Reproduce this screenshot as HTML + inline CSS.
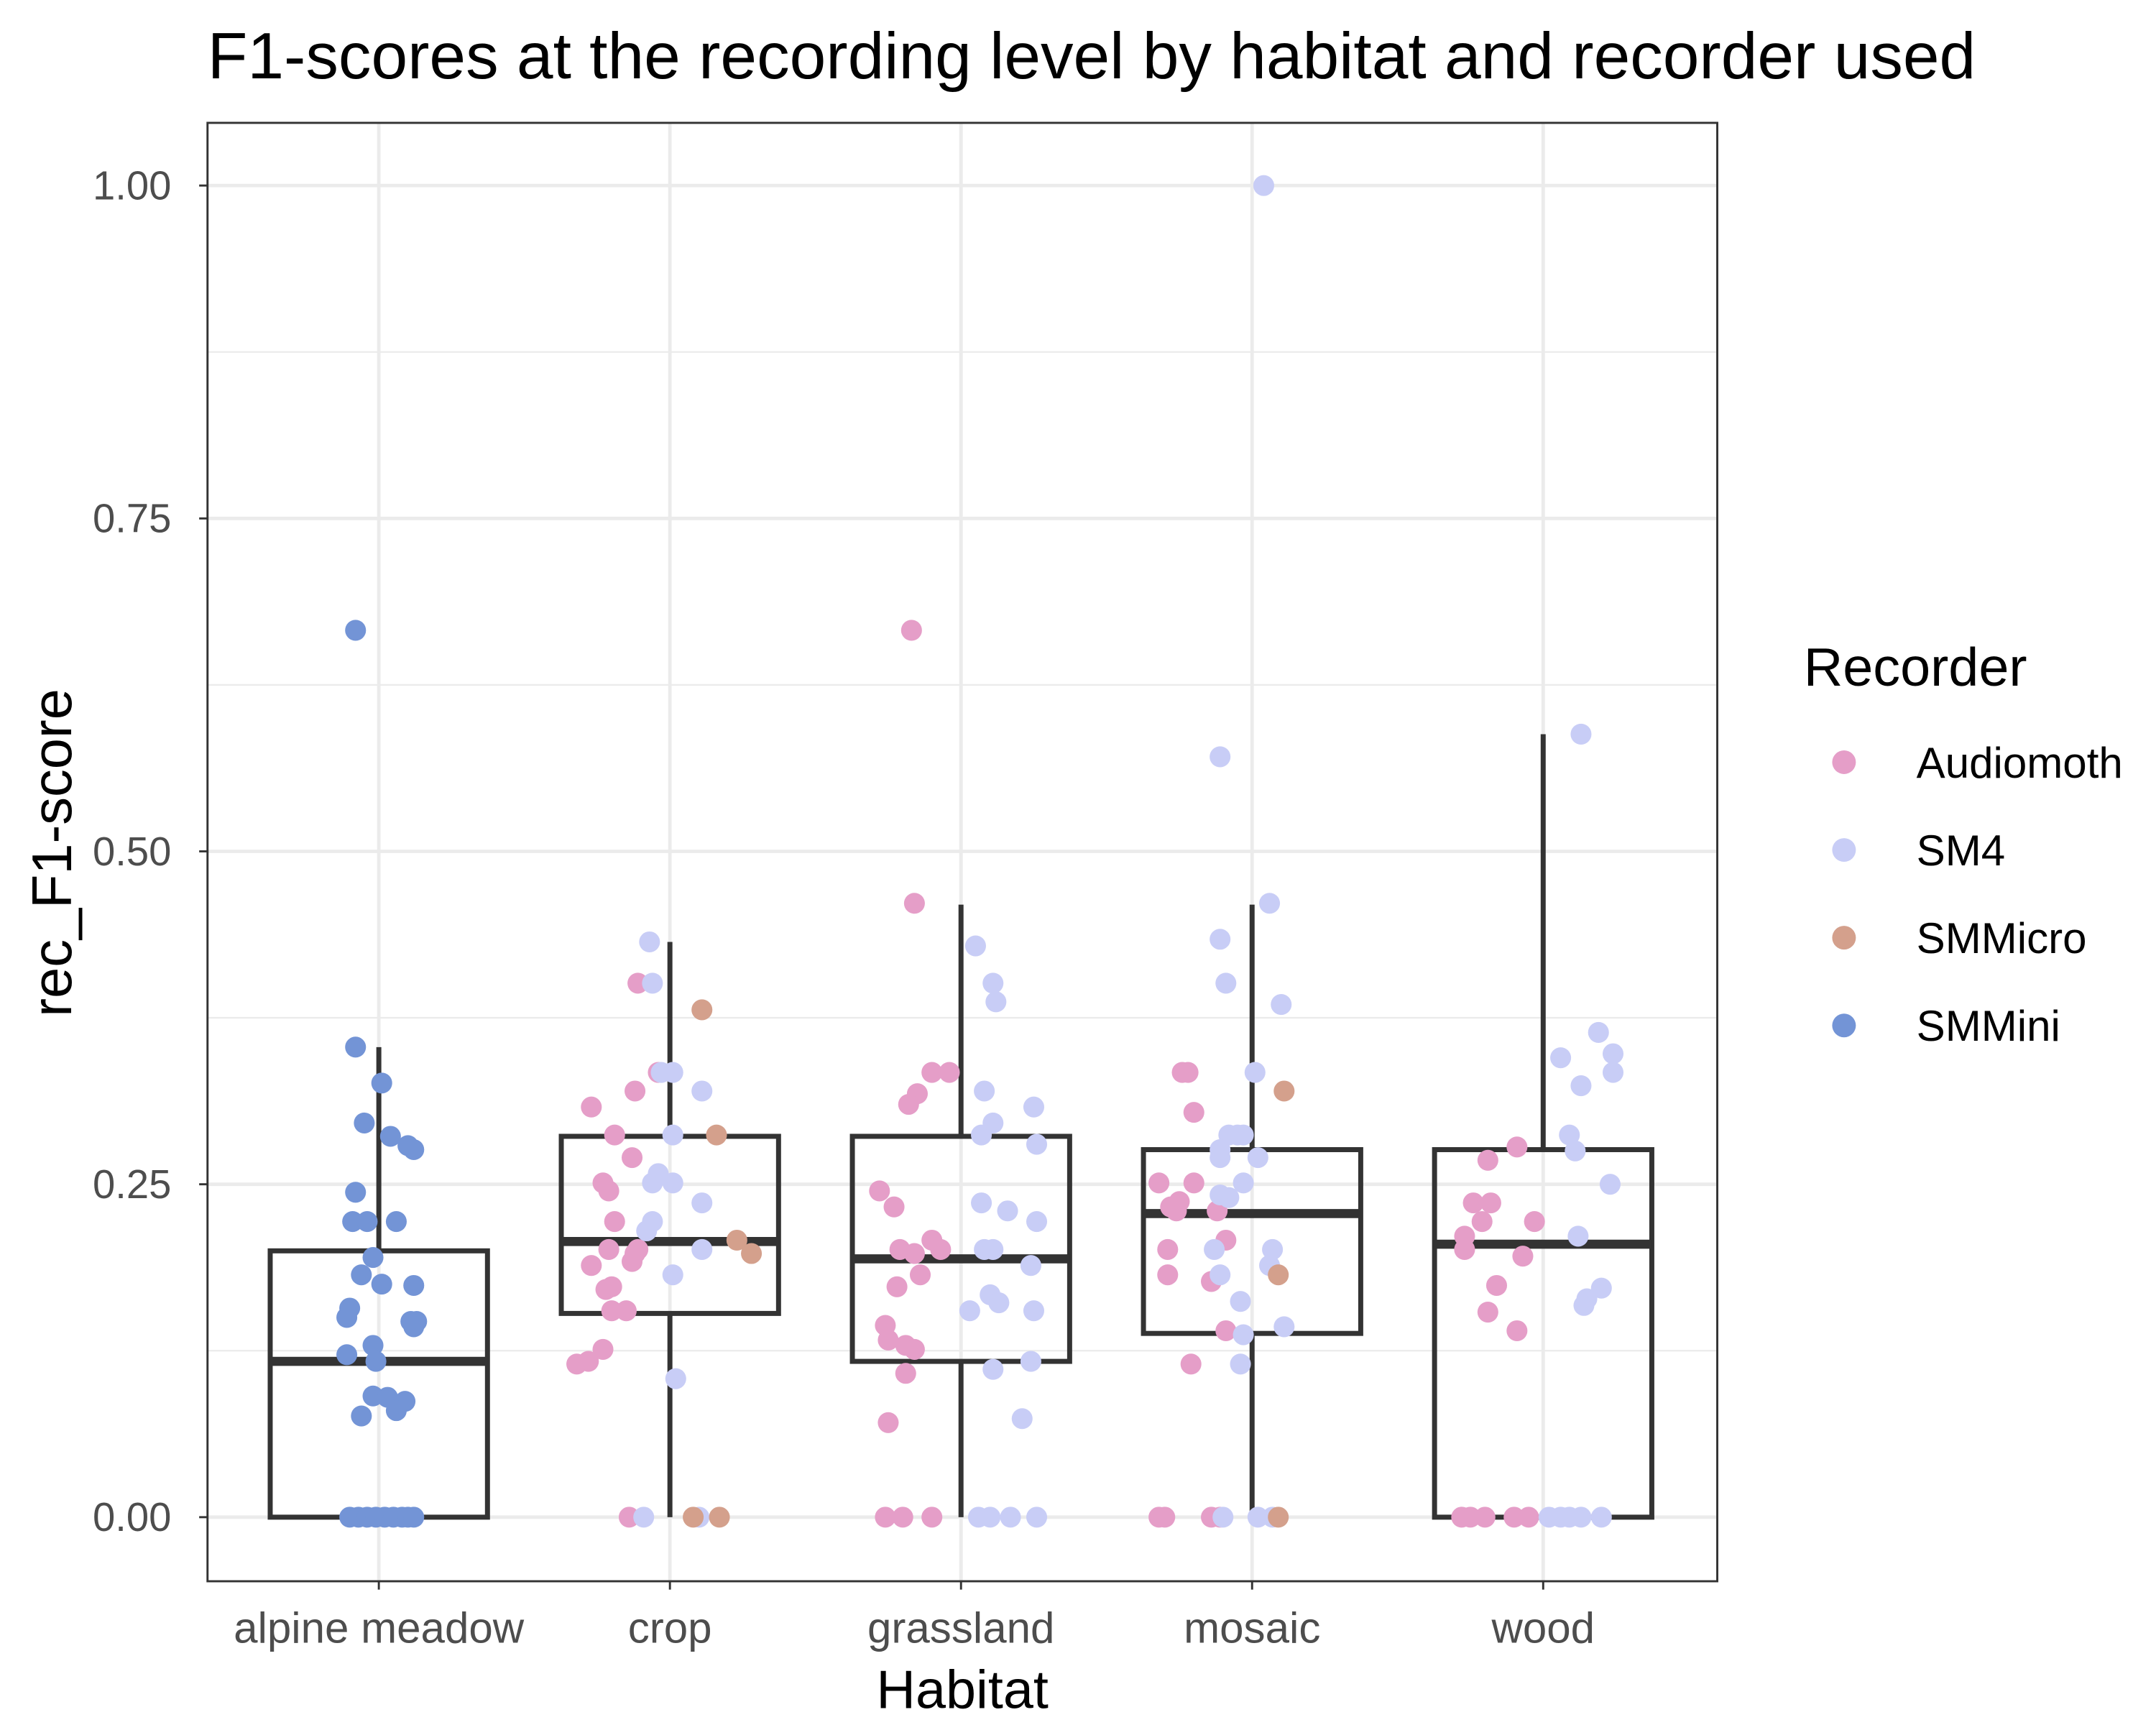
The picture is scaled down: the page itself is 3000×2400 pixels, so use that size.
<!DOCTYPE html>
<html><head><meta charset="utf-8"><style>
html,body{margin:0;padding:0;background:#fff}
svg{display:block;font-family:"Liberation Sans",Arial,sans-serif}
</style></head><body>
<svg id="chart" width="3000" height="2400" viewBox="0 0 1548 1238" xmlns="http://www.w3.org/2000/svg">
<rect x="0" y="0" width="1548" height="1238" fill="#fff"/>
<text x="149" y="56" font-size="47" fill="#000">F1-scores at the recording level by habitat and recorder used</text>
<g id="grid"></g>
<g id="boxes"></g>
<g id="points"></g>
<rect x="149" y="88" width="1084" height="1047" fill="none" stroke="#333" stroke-width="1.5"/>
<g id="axes"></g>
<text transform="translate(51,612) rotate(-90)" text-anchor="middle" font-size="40" fill="#000">rec_F1-score</text>
<text x="691" y="1226" text-anchor="middle" font-size="39" fill="#000">Habitat</text>
<g id="legend">
<text x="1295" y="492" font-size="39" fill="#000">Recorder</text>
</g>
</svg>
<script>
const categories = ["alpine meadow","crop","grassland","mosaic","wood"];
const yTicks = [0,0.25,0.5,0.75,1.0];
const yTickLabels = ["0.00","0.25","0.50","0.75","1.00"];
const recorders = ["Audiomoth","SM4","SMMicro","SMMini"];
const colors = {Audiomoth:"#e59ec8",SM4:"#c8cdf6",SMMicro:"#d4a08c",SMMini:"#7394d6"};
// box stats: [lowerWhisker, q1, median, q3, upperWhisker]
const boxStats = [
 [0,0,0.117,0.200,0.353],
 [0,0.153,0.207,0.286,0.432],
 [0,0.117,0.194,0.286,0.460],
 [0,0.138,0.228,0.276,0.460],
 [0,0,0.205,0.276,0.588]
];
// points: [habitatIndex, value, jitter (category units)]
const smMini = [[0,.666,-.08],[0,.353,-.08],[0,.326,.01],[0,.296,-.05],[0,.286,.04],[0,.279,.10],[0,.276,.12],[0,.244,-.08],[0,.222,-.09],[0,.222,-.04],[0,.222,.06],[0,.195,-.02],[0,.182,-.06],[0,.175,.01],[0,.174,.12],[0,.157,-.10],[0,.150,-.11],[0,.147,.11],[0,.147,.13],[0,.143,.12],[0,.129,-.02],[0,.122,-.11],[0,.117,-.01],[0,.091,-.02],[0,.090,.03],[0,.087,.09],[0,.080,.06],[0,.076,-.06],[0,0,-.10],[0,0,-.07],[0,0,-.04],[0,0,-.01],[0,0,.02],[0,0,.05],[0,0,.08],[0,0,.10],[0,0,.12]];
const audiomoth = [
 [1,.401,-.11],[1,.308,-.27],[1,.320,-.12],[1,.334,-.04],[1,.287,-.19],[1,.270,-.13],[1,.251,-.23],[1,.245,-.21],[1,.222,-.19],[1,.201,-.21],[1,.201,-.11],[1,.192,-.13],[1,.189,-.27],[1,.198,-.12],[1,.173,-.20],[1,.171,-.22],[1,.155,-.20],[1,.155,-.15],[1,.126,-.23],[1,.117,-.28],[1,.115,-.32],[1,0,-.14],
 [2,.666,-.17],[2,.461,-.16],[2,.318,-.15],[2,.310,-.18],[2,.334,-.10],[2,.334,-.04],[2,.245,-.28],[2,.233,-.23],[2,.201,-.21],[2,.198,-.16],[2,.208,-.10],[2,.201,-.07],[2,.182,-.14],[2,.173,-.22],[2,.144,-.26],[2,.133,-.25],[2,.129,-.19],[2,.126,-.16],[2,.108,-.19],[2,.071,-.25],[2,0,-.26],[2,0,-.20],[2,0,-.10],
 [3,.334,-.24],[3,.334,-.22],[3,.304,-.20],[3,.251,-.32],[3,.251,-.20],[3,.237,-.25],[3,.233,-.28],[3,.230,-.26],[3,.230,-.12],[3,.208,-.09],[3,.201,-.29],[3,.177,-.14],[3,.182,-.29],[3,.140,-.09],[3,.115,-.21],[3,0,-.32],[3,0,-.30],[3,0,-.14],[3,0,-.11],
 [4,.278,-.09],[4,.268,-.19],[4,.236,-.24],[4,.236,-.18],[4,.222,-.21],[4,.222,-.03],[4,.211,-.27],[4,.201,-.27],[4,.196,-.07],[4,.174,-.16],[4,.154,-.19],[4,.140,-.09],[4,0,-.28],[4,0,-.25],[4,0,-.20],[4,0,-.10],[4,0,-.05]];
const sm4 = [
 [1,.432,-.07],[1,.401,-.06],[1,.334,-.03],[1,.334,.01],[1,.320,.11],[1,.287,.01],[1,.258,-.04],[1,.251,-.06],[1,.251,.01],[1,.222,-.06],[1,.236,.11],[1,.215,-.08],[1,.182,.01],[1,.201,.11],[1,.104,.02],[1,0,-.09],[1,0,.10],
 [2,.429,.05],[2,.401,.11],[2,.387,.12],[2,.320,.08],[2,.296,.11],[2,.287,.07],[2,.308,.25],[2,.280,.26],[2,.236,.07],[2,.230,.16],[2,.222,.26],[2,.201,.08],[2,.201,.11],[2,.189,.24],[2,.167,.10],[2,.161,.13],[2,.155,.03],[2,.155,.25],[2,.117,.24],[2,.111,.11],[2,.074,.21],[2,0,.06],[2,0,.10],[2,0,.17],[2,0,.26],
 [3,1.0,.04],[3,.571,-.11],[3,.434,-.11],[3,.461,.06],[3,.401,-.09],[3,.385,.10],[3,.334,.01],[3,.287,-.08],[3,.287,-.05],[3,.287,-.03],[3,.276,-.11],[3,.270,-.11],[3,.270,.02],[3,.242,-.11],[3,.251,-.03],[3,.240,-.08],[3,.201,-.13],[3,.189,.06],[3,.201,.07],[3,.182,-.11],[3,.162,-.04],[3,.137,-.03],[3,.115,-.04],[3,.143,.11],[3,0,-.10],[3,0,.02],[3,0,.07],
 [4,.588,.13],[4,.364,.19],[4,.345,.06],[4,.348,.24],[4,.334,.24],[4,.324,.13],[4,.287,.09],[4,.275,.11],[4,.250,.23],[4,.211,.12],[4,.172,.20],[4,.164,.15],[4,.159,.14],[4,0,.02],[4,0,.06],[4,0,.09],[4,0,.13],[4,0,.20]];
const smMicro = [[1,.381,.11],[1,.287,.16],[1,.208,.23],[1,.198,.28],[1,0,.08],[1,0,.17],[3,.320,.11],[3,.182,.09],[3,0,.09]];

const NS="http://www.w3.org/2000/svg";
const L=149,R=1233,T=88,B=1135;
const xScale = i => 272 + i*209;
const yScale = v => 1089 - v*956;
function mk(tag, attrs, parent){const e=document.createElementNS(NS,tag);for(const k in attrs)e.setAttribute(k,attrs[k]);parent.appendChild(e);return e;}
const grid=document.getElementById('grid'),boxes=document.getElementById('boxes'),pts=document.getElementById('points'),axes=document.getElementById('axes'),leg=document.getElementById('legend');
for(let k=0;k<yTicks.length-1;k++){
  const y=yScale((yTicks[k]+yTicks[k+1])/2);
  const g=mk('line',{x1:L,x2:R,y1:y,y2:y,stroke:'#ebebeb','stroke-width':1.2},grid);
  
  
}
yTicks.forEach((t,k)=>{
  const y=yScale(t);
  const g=mk('line',{x1:L,x2:R,y1:y,y2:y,stroke:'#ebebeb','stroke-width':2.5},grid);
  
  
  const tk=mk('line',{x1:L-6,x2:L,y1:y,y2:y,stroke:'#333','stroke-width':1.5},axes);
  
  
  const tl=mk('text',{x:L-26,y:y+10,'text-anchor':'end','font-size':29,fill:'#4d4d4d'},axes);
  tl.textContent=yTickLabels[k];
  
  
});
categories.forEach((c,i)=>{
  const x=xScale(i);
  const g=mk('line',{x1:x,x2:x,y1:T,y2:B,stroke:'#ebebeb','stroke-width':2.5},grid);
  
  
  const tk=mk('line',{x1:x,x2:x,y1:B,y2:B+6,stroke:'#333','stroke-width':1.5},axes);
  
  
  const tl=mk('text',{x:x,y:1179,'text-anchor':'middle','font-size':31,fill:'#4d4d4d'},axes);
  tl.textContent=c;
  
  
  const s=boxStats[i], hw=78;
  const grp=mk('g',{},boxes);
  
  
  mk('line',{x1:x,x2:x,y1:yScale(s[0]),y2:yScale(s[1]),stroke:'#333','stroke-width':3.6},grp);
  mk('line',{x1:x,x2:x,y1:yScale(s[3]),y2:yScale(s[4]),stroke:'#333','stroke-width':3.6},grp);
  mk('rect',{x:x-hw,y:yScale(s[3]),width:2*hw,height:yScale(s[1])-yScale(s[3]),fill:'none',stroke:'#333','stroke-width':3.6},grp);
  mk('line',{x1:x-hw,x2:x+hw,y1:yScale(s[2]),y2:yScale(s[2]),stroke:'#333','stroke-width':6.5},grp);
});
function drawPts(arr,rec){
  arr.forEach(p=>{
    const c=mk('circle',{cx:xScale(p[0]+p[2]),cy:yScale(p[1]),r:7.5,fill:colors[rec]},pts);
    
    
  });
}
drawPts(smMini,'SMMini');drawPts(audiomoth,'Audiomoth');drawPts(sm4,'SM4');drawPts(smMicro,'SMMicro');
recorders.forEach((r,k)=>{
  const y=547+k*63;
  const c=mk('circle',{cx:1324,cy:y,r:8.5,fill:colors[r]},leg);
  
  
  const t=mk('text',{x:1376,y:y+11,'font-size':31,fill:'#000'},leg);
  t.textContent=r;
  
  
});
</script>
</body></html>
